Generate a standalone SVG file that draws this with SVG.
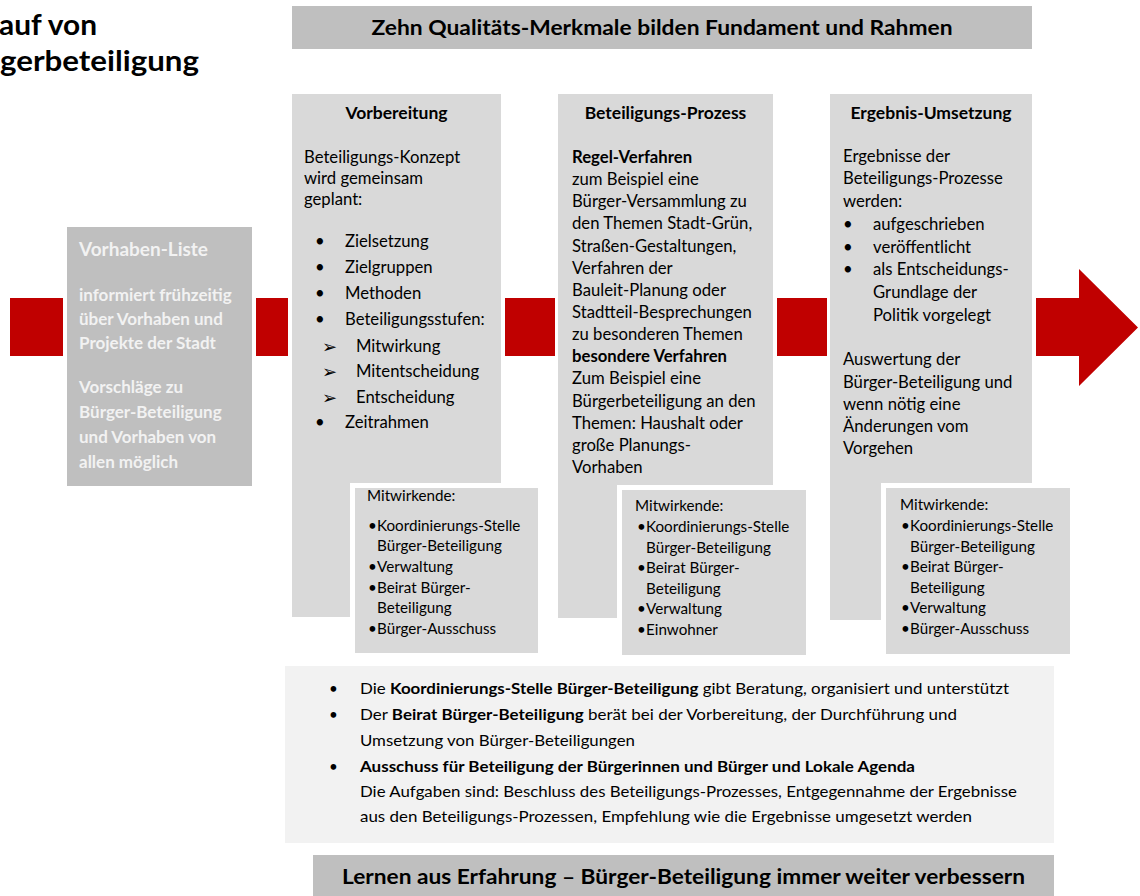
<svg xmlns="http://www.w3.org/2000/svg" width="1140" height="896" viewBox="0 0 1140 896">
<style>
  text { font-family: Lato, "Liberation Sans", sans-serif; fill: #000; }
  .title { font-size: 28px; font-weight: bold; }
  .bar { fill: #bfbfbf; }
  .barText { font-size: 21px; font-weight: bold; }
  .col { fill: #d9d9d9; }
  .head { font-size: 17.5px; font-weight: bold; text-anchor: middle; }
  .body { font-size: 16.7px; }
  .b { font-weight: bold; }
  .arrowTxt { font-family: "DejaVu Sans", sans-serif; font-size: 18px; }
  .halo { fill: #fff; }
  .mit { fill: #d9d9d9; }
  .small { font-size: 15.2px; }
  .list { fill: #bfbfbf; }
  .listText { font-size: 17px; font-weight: bold; fill: #f2f2f2; }
  .listHead { font-size: 19px; font-weight: bold; fill: #f2f2f2; }
  .panel { fill: #f2f2f2; }
  .red { fill: #c00000; }
</style>

<rect width="1140" height="896" fill="#fff"/>

<g id="title">
  <text class="title" x="-1" y="35" textLength="98" lengthAdjust="spacingAndGlyphs">auf von</text>
  <text class="title" x="0" y="71" textLength="199" lengthAdjust="spacingAndGlyphs">gerbeteiligung</text>
</g>

<g id="connectors">
  <rect class="red" x="10" y="298" width="53" height="58"/>
  <rect class="red" x="256" y="298" width="32" height="58"/>
  <rect class="red" x="505" y="298" width="50" height="58"/>
  <rect class="red" x="777" y="298" width="50" height="58"/>
  <path class="red" d="M1036,298 H1079 V269 L1138,327.5 L1079,386 V356 H1036 Z"/>
</g>

<g id="top-bar">
  <rect class="bar" x="292" y="6" width="740" height="43"/>
  <text class="barText" x="662" y="35" text-anchor="middle" textLength="581" lengthAdjust="spacingAndGlyphs">Zehn Qualitäts-Merkmale bilden Fundament und Rahmen</text>
</g>

<g id="vorhaben-liste">
  <rect class="list" x="67" y="227" width="185" height="259"/>
  <text class="listHead" x="79" y="256">Vorhaben-Liste</text>
  <text class="listText" x="79" y="301">informiert frühzeitig</text>
  <text class="listText" x="79" y="325">über Vorhaben und</text>
  <text class="listText" x="79" y="349">Projekte der Stadt</text>
  <text class="listText" x="79" y="393">Vorschläge zu</text>
  <text class="listText" x="79" y="418">Bürger-Beteiligung</text>
  <text class="listText" x="79" y="443">und Vorhaben von</text>
  <text class="listText" x="79" y="468">allen möglich</text>
</g>

<g id="vorbereitung">
  <rect class="col" x="292" y="94" width="209" height="523"/>
  <text class="head" x="396.5" y="119">Vorbereitung</text>
  <text class="body" x="304" y="163">Beteiligungs-Konzept</text>
  <text class="body" x="304" y="184">wird gemeinsam</text>
  <text class="body" x="304" y="205">geplant:</text>
  <text class="body" x="315" y="247">•</text><text class="body" x="345" y="247">Zielsetzung</text>
  <text class="body" x="315" y="273">•</text><text class="body" x="345" y="273">Zielgruppen</text>
  <text class="body" x="315" y="299">•</text><text class="body" x="345" y="299">Methoden</text>
  <text class="body" x="315" y="325">•</text><text class="body" x="345" y="325">Beteiligungsstufen:</text>
  <text class="arrowTxt" x="322" y="353">➢</text><text class="body" x="356" y="352">Mitwirkung</text>
  <text class="arrowTxt" x="322" y="378">➢</text><text class="body" x="356" y="377">Mitentscheidung</text>
  <text class="arrowTxt" x="322" y="404">➢</text><text class="body" x="356" y="403">Entscheidung</text>
  <text class="body" x="315" y="428">•</text><text class="body" x="345" y="428">Zeitrahmen</text>
</g>

<g id="mitwirkende-vorbereitung">
  <rect class="halo" x="350" y="483" width="193" height="175"/>
  <rect class="mit" x="355" y="488" width="183" height="165"/>
  <text class="small" x="367" y="501">Mitwirkende:</text>
  <text class="small" x="368" y="531">•</text><text class="small" x="377" y="531">Koordinierungs-Stelle</text>
  <text class="small" x="377" y="551">Bürger-Beteiligung</text>
  <text class="small" x="368" y="572">•</text><text class="small" x="377" y="572">Verwaltung</text>
  <text class="small" x="368" y="593">•</text><text class="small" x="377" y="593">Beirat Bürger-</text>
  <text class="small" x="377" y="613">Beteiligung</text>
  <text class="small" x="368" y="634">•</text><text class="small" x="377" y="634">Bürger-Ausschuss</text>
</g>

<g id="beteiligungs-prozess">
  <rect class="col" x="558" y="94" width="215" height="524"/>
  <text class="head" x="665.5" y="119">Beteiligungs-Prozess</text>
  <text class="body b" x="572" y="163">Regel-Verfahren</text>
  <text class="body" x="572" y="185">zum Beispiel eine</text>
  <text class="body" x="572" y="207">Bürger-Versammlung zu</text>
  <text class="body" x="572" y="229">den Themen Stadt-Grün,</text>
  <text class="body" x="572" y="252">Straßen-Gestaltungen,</text>
  <text class="body" x="572" y="274">Verfahren der</text>
  <text class="body" x="572" y="296">Bauleit-Planung oder</text>
  <text class="body" x="572" y="318">Stadtteil-Besprechungen</text>
  <text class="body" x="572" y="340">zu besonderen Themen</text>
  <text class="body b" x="572" y="362">besondere Verfahren</text>
  <text class="body" x="572" y="384">Zum Beispiel eine</text>
  <text class="body" x="572" y="407">Bürgerbeteiligung an den</text>
  <text class="body" x="572" y="429">Themen: Haushalt oder</text>
  <text class="body" x="572" y="451">große Planungs-</text>
  <text class="body" x="572" y="473">Vorhaben</text>
</g>

<g id="mitwirkende-prozess">
  <rect class="halo" x="617" y="485" width="194" height="175"/>
  <rect class="mit" x="622" y="490" width="184" height="165"/>
  <text class="small" x="635" y="511">Mitwirkende:</text>
  <text class="small" x="637" y="532">•</text><text class="small" x="646" y="532">Koordinierungs-Stelle</text>
  <text class="small" x="646" y="553">Bürger-Beteiligung</text>
  <text class="small" x="637" y="573">•</text><text class="small" x="646" y="573">Beirat Bürger-</text>
  <text class="small" x="646" y="594">Beteiligung</text>
  <text class="small" x="637" y="614">•</text><text class="small" x="646" y="614">Verwaltung</text>
  <text class="small" x="637" y="635">•</text><text class="small" x="646" y="635">Einwohner</text>
</g>

<g id="ergebnis-umsetzung">
  <rect class="col" x="830" y="94" width="202" height="526"/>
  <text class="head" x="931" y="119">Ergebnis-Umsetzung</text>
  <text class="body" x="843" y="162">Ergebnisse der</text>
  <text class="body" x="843" y="184">Beteiligungs-Prozesse</text>
  <text class="body" x="843" y="207">werden:</text>
  <text class="body" x="843" y="230">•</text><text class="body" x="873" y="230">aufgeschrieben</text>
  <text class="body" x="843" y="253">•</text><text class="body" x="873" y="253">veröffentlicht</text>
  <text class="body" x="843" y="275">•</text><text class="body" x="873" y="275">als Entscheidungs-</text>
  <text class="body" x="873" y="298">Grundlage der</text>
  <text class="body" x="873" y="321">Politik vorgelegt</text>
  <text class="body" x="843" y="365">Auswertung der</text>
  <text class="body" x="843" y="388">Bürger-Beteiligung und</text>
  <text class="body" x="843" y="410">wenn nötig eine</text>
  <text class="body" x="843" y="432">Änderungen vom</text>
  <text class="body" x="843" y="454">Vorgehen</text>
</g>

<g id="mitwirkende-ergebnis">
  <rect class="halo" x="881" y="483" width="194" height="176"/>
  <rect class="mit" x="886" y="488" width="184" height="166"/>
  <text class="small" x="900" y="510">Mitwirkende:</text>
  <text class="small" x="901" y="531">•</text><text class="small" x="910" y="531">Koordinierungs-Stelle</text>
  <text class="small" x="910" y="552">Bürger-Beteiligung</text>
  <text class="small" x="901" y="572">•</text><text class="small" x="910" y="572">Beirat Bürger-</text>
  <text class="small" x="910" y="593">Beteiligung</text>
  <text class="small" x="901" y="613">•</text><text class="small" x="910" y="613">Verwaltung</text>
  <text class="small" x="901" y="634">•</text><text class="small" x="910" y="634">Bürger-Ausschuss</text>
</g>

<g id="rollen">
  <rect class="panel" x="285" y="666" width="769" height="177"/>
  <text class="small" x="329" y="694">•</text>
  <text class="small" x="360" y="694" textLength="649" lengthAdjust="spacingAndGlyphs">Die <tspan class="b">Koordinierungs-Stelle Bürger-Beteiligung</tspan> gibt Beratung, organisiert und unterstützt</text>
  <text class="small" x="329" y="720">•</text>
  <text class="small" x="360" y="720" textLength="597" lengthAdjust="spacingAndGlyphs">Der <tspan class="b">Beirat Bürger-Beteiligung</tspan> berät bei der Vorbereitung, der Durchführung und</text>
  <text class="small" x="360" y="746" textLength="275" lengthAdjust="spacingAndGlyphs">Umsetzung von Bürger-Beteiligungen</text>
  <text class="small" x="329" y="772">•</text>
  <text class="small b" x="360" y="772" textLength="555" lengthAdjust="spacingAndGlyphs">Ausschuss für Beteiligung der Bürgerinnen und Bürger und Lokale Agenda</text>
  <text class="small" x="360" y="797" textLength="657" lengthAdjust="spacingAndGlyphs">Die Aufgaben sind: Beschluss des Beteiligungs-Prozesses, Entgegennahme der Ergebnisse</text>
  <text class="small" x="360" y="822" textLength="612" lengthAdjust="spacingAndGlyphs">aus den Beteiligungs-Prozessen, Empfehlung wie die Ergebnisse umgesetzt werden</text>
</g>

<g id="bottom-bar">
  <rect class="bar" x="313" y="855" width="741" height="41"/>
  <text class="barText" x="342" y="884" textLength="683" lengthAdjust="spacingAndGlyphs">Lernen aus Erfahrung – Bürger-Beteiligung immer weiter verbessern</text>
</g>
</svg>
